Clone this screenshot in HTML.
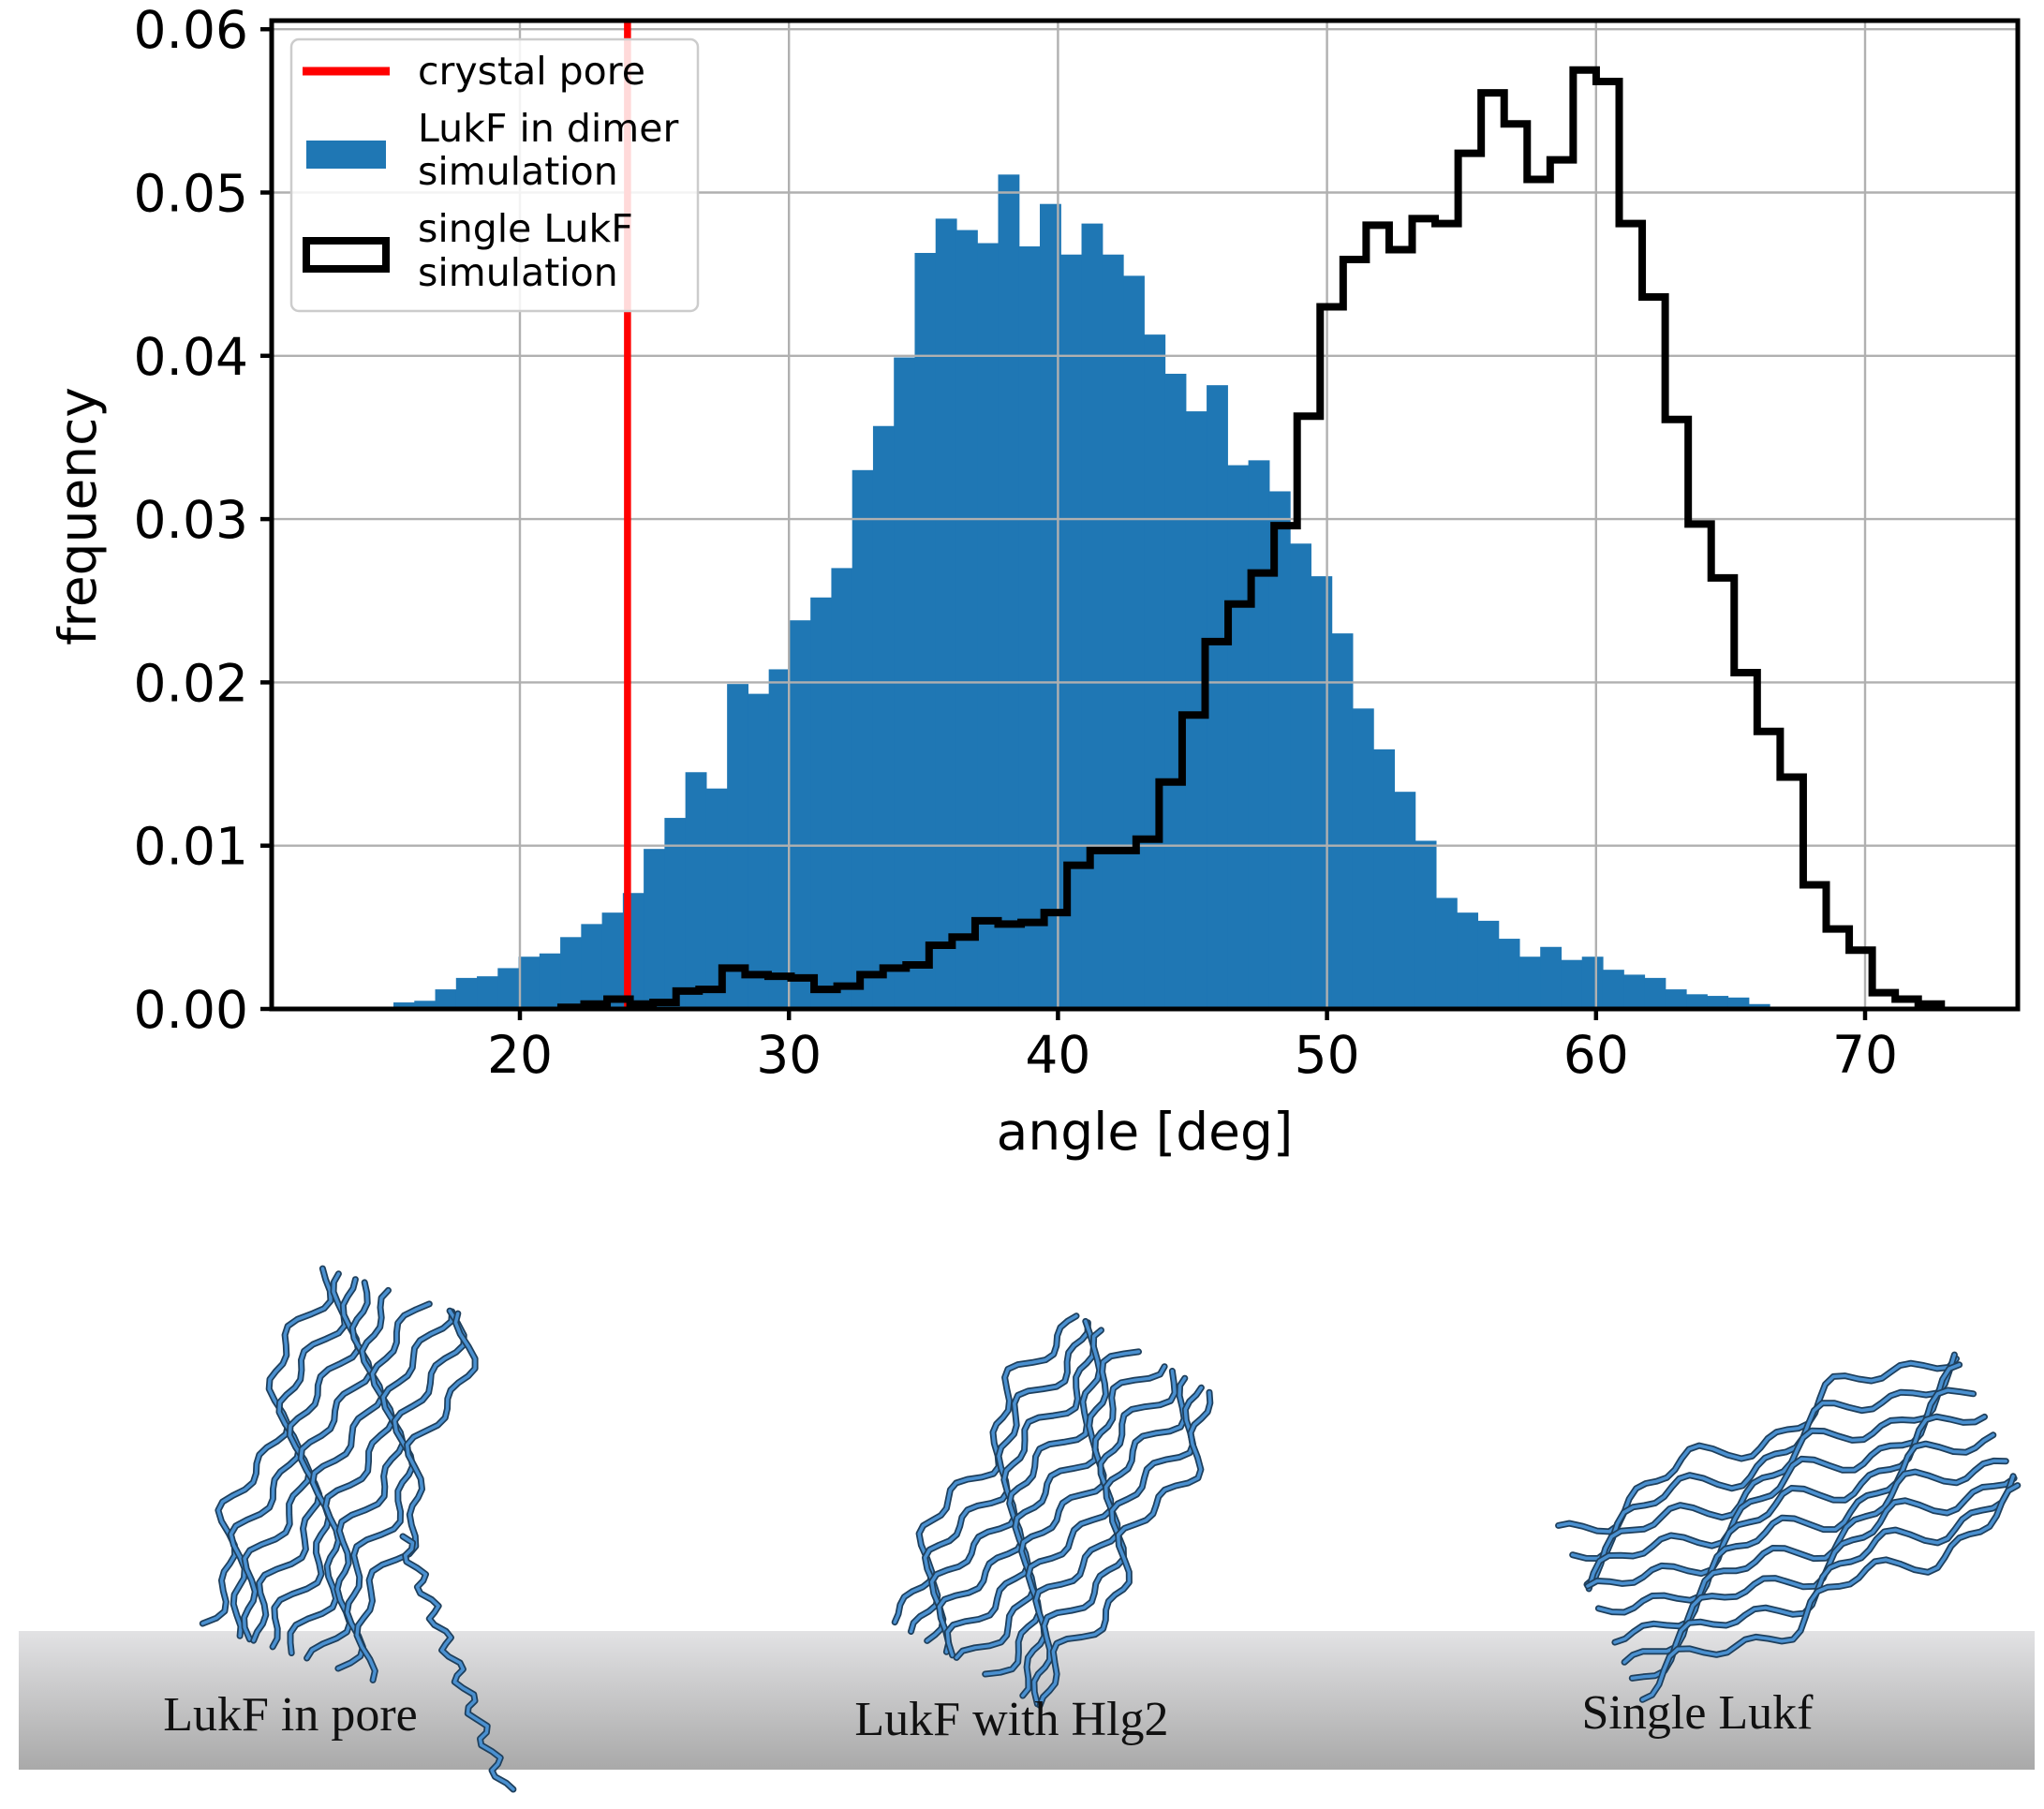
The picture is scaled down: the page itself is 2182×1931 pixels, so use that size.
<!DOCTYPE html>
<html><head><meta charset="utf-8">
<style>
html,body{margin:0;padding:0;background:#fff;}
#wrap{position:relative;width:2182px;height:1931px;overflow:hidden;}
svg{position:absolute;left:0;top:0;}
</style></head>
<body>
<div id="wrap">
<svg id="chart" width="2182" height="1931" viewBox="0 0 2182 1931">
  <defs>
    <linearGradient id="band" x1="0" y1="0" x2="0" y2="1">
      <stop offset="0" stop-color="#e2e2e4"/>
      <stop offset="1" stop-color="#a9a9a9"/>
    </linearGradient>
    <clipPath id="plotclip"><rect x="290" y="22" width="1864" height="1055"/></clipPath>
  </defs>
  <rect x="20" y="1741" width="2152" height="148" fill="url(#band)"/>
  <g id="proteins"></g>
  <g id="bars" clip-path="url(#plotclip)"></g>
  <g id="grid"></g>
  <g id="lines" clip-path="url(#plotclip)"></g>
  <g id="axes"></g>
  <g id="legend">
    <rect x="311" y="42" width="434" height="290" rx="8" fill="#fff" fill-opacity="0.85" stroke="#cccccc" stroke-width="2.5"/>
    <line x1="323" y1="76" x2="416" y2="76" stroke="#ff0000" stroke-width="9"/>
    <text x="446" y="90" font-family="DejaVu Sans, Liberation Sans, sans-serif" font-size="41">crystal pore</text>
    <rect x="327" y="150" width="85" height="30" fill="#1f77b4"/>
    <text x="446" y="151" font-family="DejaVu Sans, Liberation Sans, sans-serif" font-size="41">LukF in dimer</text>
    <text x="446" y="197" font-family="DejaVu Sans, Liberation Sans, sans-serif" font-size="41">simulation</text>
    <rect x="327" y="257" width="85" height="30" fill="none" stroke="#000" stroke-width="8"/>
    <text x="446" y="258" font-family="DejaVu Sans, Liberation Sans, sans-serif" font-size="41">single LukF</text>
    <text x="446" y="305" font-family="DejaVu Sans, Liberation Sans, sans-serif" font-size="41">simulation</text>
  </g>
  <g font-family="Liberation Serif, serif" font-size="52" fill="#111" text-anchor="middle">
    <text x="310" y="1847">LukF in pore</text>
    <text x="1080" y="1852">LukF with Hlg2</text>
    <text x="1812" y="1845">Single Lukf</text>
  </g>
</svg>
</div>
<script>
// ---- chart data ----
const dimerStart = 13.75;
const dimerWidth = 0.775;
const dimerFreq = [0.0001,0.0001,0.0004,0.0005,0.0012,0.0019,0.0020,0.0025,
0.0032,0.0034,0.0044,0.0052,0.0059,0.0071,0.0098,0.0117,0.0145,0.0135,0.0199,0.0193,
0.0208,0.0238,0.0252,0.0270,0.0330,0.0357,0.0399,0.0463,0.0484,0.0477,0.0469,0.0511,
0.0467,0.0493,0.0462,0.0481,0.0462,0.0449,0.0413,0.0389,0.0366,0.0382,0.0333,0.0336,
0.0317,0.0285,0.0265,0.0230,0.0184,0.0159,0.0133,0.0103,0.0068,0.0059,0.0054,0.0043,
0.0032,0.0038,0.0030,0.0032,0.0024,0.0021,0.0019,0.0012,0.0009,0.0008,0.0007,0.0003];
const singleStart = 21.53;
const singleWidth = 0.855;
const singleFreq = [0.0001,0.0003,0.0006,0.0003,0.0004,0.0011,0.0012,0.0025,0.0021,0.0020,
0.0019,0.0012,0.0014,0.0021,0.0025,0.0027,0.0039,
0.0044,0.0054,0.0052,0.0053,0.0059,0.0088,0.0097,0.0097,0.0104,0.0139,0.0180,0.0225,
0.0248,0.0267,0.0296,0.0363,0.0430,0.0459,0.0480,0.0465,0.0484,0.0481,0.0524,0.0561,
0.0542,0.0508,0.0520,0.0575,
0.0568,0.0481,0.0436,0.0361,0.0297,0.0264,0.0206,0.0170,0.0142,0.0076,0.0049,0.0036,
0.0010,0.0006,0.0003];
const crystalPore = 24.0;
const xTicks = [20,30,40,50,60,70];
const yTicks = [0,0.01,0.02,0.03,0.04,0.05,0.06];
const yTickLabels = ["0.00","0.01","0.02","0.03","0.04","0.05","0.06"];

const NS = "http://www.w3.org/2000/svg";
const X0 = 290, X1 = 2154, Y0 = 22, Y1 = 1077;
function xs(v){ return 555 + (v-20)*28.72; }
function ys(f){ return 1077 - f*17430; }
function mk(tag, attrs, parent){
  const e = document.createElementNS(NS, tag);
  for (const k in attrs) e.setAttribute(k, attrs[k]);
  parent.appendChild(e);
  return e;
}
const bars = document.getElementById('bars');
dimerFreq.forEach((f,i)=>{
  const a = dimerStart + i*dimerWidth, b = a + dimerWidth;
  const r = mk('rect',{x:xs(a),y:ys(f),width:xs(b)-xs(a)+0.6,height:ys(0)-ys(f),fill:'#1f77b4'},bars);
  
  
});
const grid = document.getElementById('grid');
xTicks.forEach(t=>{
  const l = mk('line',{x1:xs(t),x2:xs(t),y1:Y0,y2:Y1,stroke:'#b0b0b0','stroke-width':2.4},grid);
  
  
});
yTicks.forEach(t=>{
  const l = mk('line',{x1:X0,x2:X1,y1:ys(t),y2:ys(t),stroke:'#b0b0b0','stroke-width':2.4},grid);
  
  
});
const lines = document.getElementById('lines');
const red = mk('line',{x1:xs(crystalPore),x2:xs(crystalPore),y1:Y0,y2:Y1,stroke:'#ff0000','stroke-width':7.5},lines);


let d = 'M'+xs(singleStart)+','+ys(0);
singleFreq.forEach((f,i)=>{
  const a = singleStart + i*singleWidth, b = a + singleWidth;
  d += ' L'+xs(a)+','+ys(f)+' L'+xs(b)+','+ys(f);
});
d += ' L'+xs(singleStart+singleFreq.length*singleWidth)+','+ys(0);
const step = mk('path',{d:d,fill:'none',stroke:'#000','stroke-width':8,'stroke-linejoin':'miter'},lines);



const axes = document.getElementById('axes');
const frame = mk('rect',{x:X0,y:Y0,width:X1-X0,height:Y1-Y0,fill:'none',stroke:'#000','stroke-width':5},axes);


const F = 'DejaVu Sans, Liberation Sans, sans-serif';
xTicks.forEach(t=>{
  const tk = mk('line',{x1:xs(t),x2:xs(t),y1:Y1,y2:Y1+12,stroke:'#000','stroke-width':4.5},axes);
  
  
  const tx = mk('text',{x:xs(t),y:1145,'font-family':F,'font-size':55,'text-anchor':'middle'},axes);
  tx.textContent = String(t);
  
  
});
yTicks.forEach((t,i)=>{
  const tk = mk('line',{x1:X0-12,x2:X0,y1:ys(t),y2:ys(t),stroke:'#000','stroke-width':4.5},axes);
  
  
  const tx = mk('text',{x:265,y:ys(t)+20,'font-family':F,'font-size':55,'text-anchor':'end'},axes);
  tx.textContent = yTickLabels[i];
  
  
});
const xl = mk('text',{x:1222,y:1227,'font-family':F,'font-size':55,'text-anchor':'middle'},axes);
xl.textContent = 'angle [deg]';


const yl = mk('text',{x:0,y:0,'font-family':F,'font-size':55,'text-anchor':'middle',transform:'translate(102,551) rotate(-90)'},axes);
yl.textContent = 'frequency';



// ---- decorative protein ribbons ----
const prot = document.getElementById('proteins');
function strand(pts){
  let p = 'M'+pts[0][0]+','+pts[0][1];
  for (let i=1;i<pts.length;i++) p += ' L'+pts[i][0]+','+pts[i][1];
  mk('path',{d:p,fill:'none',stroke:'#1e3f5c','stroke-width':7,'stroke-linejoin':'round','stroke-linecap':'round'},prot);
  mk('path',{d:p,fill:'none',stroke:'#4a90d0','stroke-width':3.5,'stroke-linejoin':'round','stroke-linecap':'round'},prot);
}
function blob(cx,cy,len,ang,n,spread,seed){
  const ca=Math.cos(ang), sa=Math.sin(ang);
  for (let k=0;k<n;k++){
    const off=(k/(n-1)-0.5)*spread;
    const pts=[];
    for (let s=0;s<=40;s++){
      const t=(s/40-0.5)*len;
      const w=off+Math.sin(s*0.9+k*1.7+seed)*9+Math.sin(s*0.37+k)*14;
      pts.push([(cx+t*ca-w*sa).toFixed(1),(cy+t*sa+w*ca).toFixed(1)]);
    }
    strand(pts);
  }
}
blob(360,1570,400,-1.25,9,170,0);
const tail=[];
for (let s=0;s<=40;s++){
  const t=s/40;
  tail.push([(430+t*110+Math.sin(s*1.3)*8).toFixed(1),(1640+t*270).toFixed(1)]);
}
strand(tail);
blob(1125,1610,380,-1.05,10,190,2);
blob(1915,1620,460,-0.45,10,190,4);
</script>
</body></html>
